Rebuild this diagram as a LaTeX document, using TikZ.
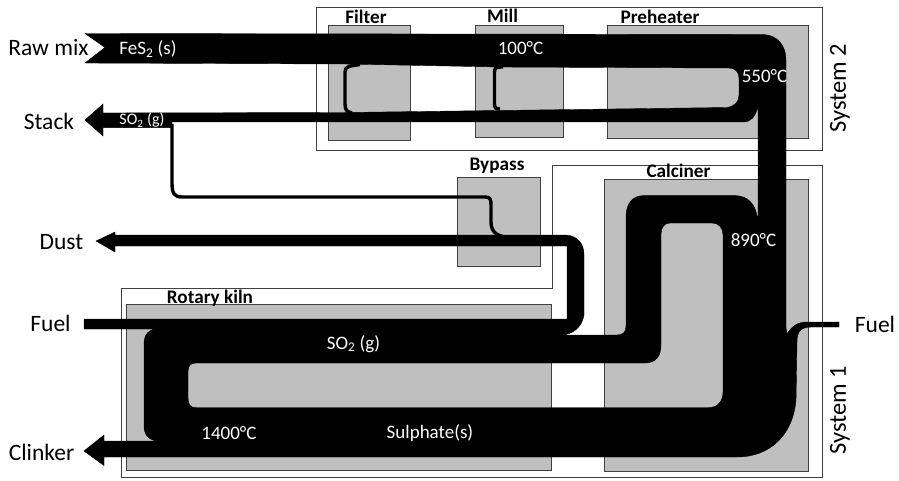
\documentclass[tikz,border=0pt]{standalone}
\usepackage{fontspec}
\setmainfont{Carlito}
\begin{document}
\begin{tikzpicture}[x=1pt,y=-1pt,
  sysbox/.style={draw=black!75,line width=0.9pt,fill=white},
  unitbox/.style={draw=black!75,line width=0.9pt,fill=black!25},
  flow/.style={fill=black,even odd rule},
  thinflow/.style={draw=black,line width=3.4pt,line join=round},
  outlabel/.style={font=\fontsize{23.5}{26}\selectfont,inner sep=0pt},
  syslabel/.style={font=\fontsize{24.5}{26}\selectfont,inner sep=0pt,rotate=90},
  unitlabel/.style={font=\bfseries\fontsize{19.2}{21}\selectfont,inner sep=0pt},
  inlabel/.style={font=\fontsize{19}{20}\selectfont,text=white,inner sep=0pt}]
\useasboundingbox (0,0) rectangle (899,481);
% system frames
\draw[sysbox] (316.5,7) rectangle (822,150);
\draw[sysbox] (552,165) -- (822,165) -- (822,477) -- (121,477) -- (121,288) -- (552,288) -- cycle;
% units
\draw[unitbox] (328,25) rectangle (410,140);
\draw[unitbox] (475,25) rectangle (563,137);
\draw[unitbox] (607,25) rectangle (808,138);
\draw[unitbox] (457,177) rectangle (540,266);
\draw[unitbox] (604,179) rectangle (808,471);
\draw[unitbox] (126,304) rectangle (551,470);
% thin flows
\draw[thinflow] (360,64.5) .. controls (350,66) and (345,66) .. (345,72) -- (345,104) .. controls (345,110) and (347,112) .. (352,113);
\draw[thinflow] (503,67) .. controls (497,67) and (494.5,67) .. (494.5,72) -- (494.5,104) .. controls (494.5,108) and (496,109) .. (500,109);
\draw[thinflow] (172,124) -- (172,183) .. controls (172,193) and (174,197) .. (182,197) -- (485,197) .. controls (490,197) and (491,199) .. (491,205) -- (491,222) .. controls (491,232) and (497,236) .. (506,237);
% main flow, with the hole between kiln and calciner
\draw[flow]
  (85,33.5) -- (763,34.5) .. controls (778,35) and (786,46) .. (786,60)
  -- (786,328) -- (787,334) .. controls (792,326) and (798,322) .. (807,322)
  -- (839,322) -- (839,327) -- (812,327) .. controls (801,327) and (797,331) .. (797,342)
  -- (796,400) .. controls (793,435) and (770,457) .. (737,457)
  -- (104,457) -- (104,465.5) -- (84,451) -- (104,435) -- (104,441) -- (160,441)
  .. controls (149,441) and (144,435) .. (144,426) -- (144,344) .. controls (144,334) and (149,329) .. (158,329)
  -- (84,329) -- (84,319) -- (567,319) -- (567,246)
  -- (115,246) -- (115,252) -- (96,241) -- (115,232) -- (115,235) -- (566,235)
  .. controls (578,236) and (584,244) .. (584,255) -- (584,315)
  .. controls (582,327) and (573,335) .. (560,335) -- (617,335)
  .. controls (623,335) and (626,332) .. (626,326) -- (626,215)
  .. controls (627,203) and (632,195.5) .. (645,195.5) -- (735,195.5)
  .. controls (748,196) and (755,204) .. (757,216) -- (758,216) -- (758,107)
  .. controls (755,116) and (752,122) .. (743,122)
  -- (172,122) -- (172,127.6) -- (103,127.6) -- (103,136) -- (85,120) -- (103,104) -- (103,113)
  -- (345,112.5) -- (727,107.5) .. controls (735,106) and (739,102) .. (739,95)
  -- (739,78) .. controls (739,72) and (735,68) .. (729,68)
  -- (500,67) -- (345,64) -- (85,63) -- (105,47.5) -- cycle
  (670,223) -- (712,223) .. controls (719,223) and (723,228) .. (723,235)
  -- (723,392) .. controls (723,401) and (718,407.7) .. (708,407.7)
  -- (196,407.7) .. controls (190,407.7) and (188,404) .. (188,398)
  -- (188,372) .. controls (188,366) and (190,363) .. (196,363)
  -- (645,363) .. controls (656,363) and (661,356) .. (661,345)
  -- (661,234) .. controls (661,228) and (664,223) .. (670,223) -- cycle;
% outside labels
\node[outlabel] (rawmix) at (48.5,48) {Raw mix};
\node[outlabel] (stack) at (49,121) {Stack};
\node[outlabel] (dust) at (61.5,242) {Dust};
\node[outlabel] (fuelleft) at (50.5,323) {Fuel};
\node[outlabel] (clinker) at (41.5,452) {Clinker};
\node[outlabel] (fuelright) at (875,324) {Fuel};
\node[syslabel] (sys2) at (840,88) {System 2};
\node[syslabel] (sys1) at (840,410) {System 1};
% unit labels
\node[unitlabel] (filter) at (366,17) {Filter};
\node[unitlabel] (mill) at (502.5,16) {Mill};
\node[unitlabel] (preheater) at (660,17) {Preheater};
\node[unitlabel] (bypass) at (497,166) {Bypass};
\node[unitlabel] (calciner) at (678.5,171) {Calciner};
\node[unitlabel] (kiln) at (210,298) {Rotary kiln};
% labels on the flows
\node[inlabel] (fes) at (148,49) {FeS\textsubscript{2} (s)};
\node[inlabel] (t100) at (520.5,48) {100°C};
\node[inlabel] (t550) at (764.5,76) {550°C};
\node[inlabel,font=\fontsize{16}{18}\selectfont] (so2a) at (142,120) {SO\textsubscript{2} (g)};
\node[inlabel] (t890) at (753.5,240) {890°C};
\node[inlabel] (so2b) at (353.5,344) {SO\textsubscript{2} (g)};
\node[inlabel] (t1400) at (229,433) {1400°C};
\node[inlabel] (sulphate) at (430,433) {Sulphate(s)};
\end{tikzpicture}
\end{document}
